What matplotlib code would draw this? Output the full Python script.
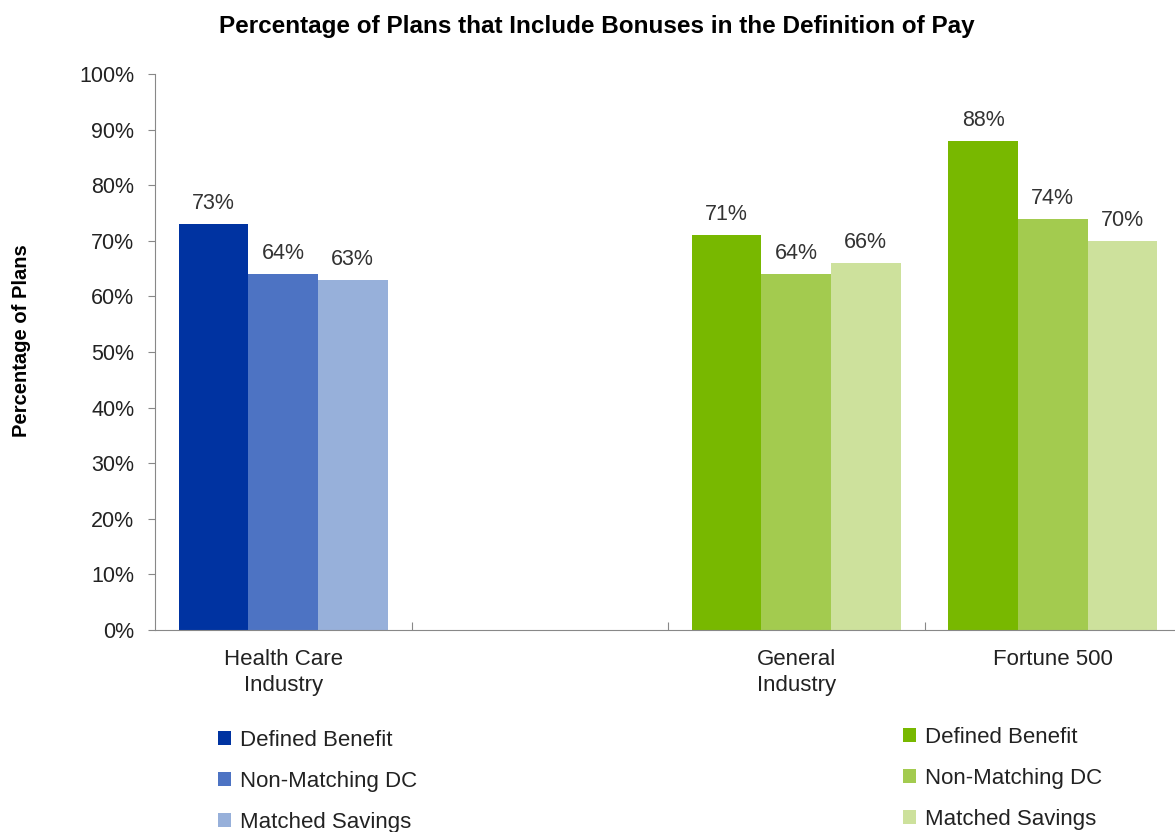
import matplotlib
matplotlib.use('Agg')
import matplotlib.pyplot as plt
import numpy as np

matplotlib.rcParams['font.family'] = ['Liberation Sans', 'DejaVu Sans']

# Category slots along the x axis (second slot is left empty)
categories = ['Health Care\nIndustry', '', 'General\nIndustry', 'Fortune 500']
series = ['Defined Benefit', 'Non-Matching DC', 'Matched Savings']

health_care = [73, 64, 63]
general_industry = [71, 64, 66]
fortune_500 = [88, 74, 70]

blues = ['#0033a1', '#4d73c3', '#97b0da']
greens = ['#78b800', '#a3cb4f', '#cde19c']

fig = plt.figure(figsize=(11.75, 8.32), dpi=100)
ax = fig.add_axes([155 / 1175, 1 - 630 / 832, 1026 / 1175, 556 / 832])

width = 0.271
offsets = np.array([-1, 0, 1]) * width

groups = [(0, health_care, blues), (2, general_industry, greens), (3, fortune_500, greens)]
blue_h, green_h = [], []
for slot, vals, cols in groups:
    for k, (v, c) in enumerate(zip(vals, cols)):
        x = slot + 0.5 + offsets[k]
        b = ax.bar(x, v, width=width, color=c, edgecolor='none')
        if slot == 0:
            blue_h.append(b)
        elif slot == 2:
            green_h.append(b)
        ax.text(x, v + 1.8, '%d%%' % v, ha='center', va='bottom',
                fontsize=15.5, color='#333333')

ax.set_xlim(0, 4)
ax.set_ylim(0, 100)
ax.set_yticks(np.arange(0, 101, 10))
ax.set_yticklabels(['%d%%' % t for t in range(0, 101, 10)], fontsize=15.5, color='#222222')
ax.tick_params(axis='y', direction='out', length=5, color='#888888', pad=10)

# category boundaries as inward ticks, names centred in each slot
ax.set_xticks([1, 2, 3])
ax.set_xticklabels([])
ax.tick_params(axis='x', direction='in', length=6, color='#888888')
for i, name in enumerate(categories):
    ax.text(i + 0.5, -3.4, name, ha='center', va='top', fontsize=16,
            color='#222222', linespacing=1.3)

for s in ['top', 'right']:
    ax.spines[s].set_visible(False)
for s in ['left', 'bottom']:
    ax.spines[s].set_color('#888888')

ax.set_ylabel('Percentage of Plans', fontsize=14.5, fontweight='bold')
ax.yaxis.set_label_coords(-0.121, 0.52)
fig.text(597 / 1175, 1 - 26 / 832, 'Percentage of Plans that Include Bonuses in the Definition of Pay',
         ha='center', va='center', fontsize=17.5, fontweight='bold')

leg_kw = dict(frameon=False, fontsize=16, handlelength=0.6, handleheight=0.6,
              handletextpad=0.4, labelspacing=0.9, loc='upper left',
              borderpad=0, borderaxespad=0)
l1 = fig.legend(blue_h, series, bbox_to_anchor=(218 / 1175, 1 - 730 / 832), **leg_kw)
l2 = fig.legend(green_h, series, bbox_to_anchor=(903 / 1175, 1 - 727 / 832), **leg_kw)
for leg in (l1, l2):
    for t in leg.get_texts():
        t.set_color('#222222')

fig.savefig('out.png', dpi=100)
